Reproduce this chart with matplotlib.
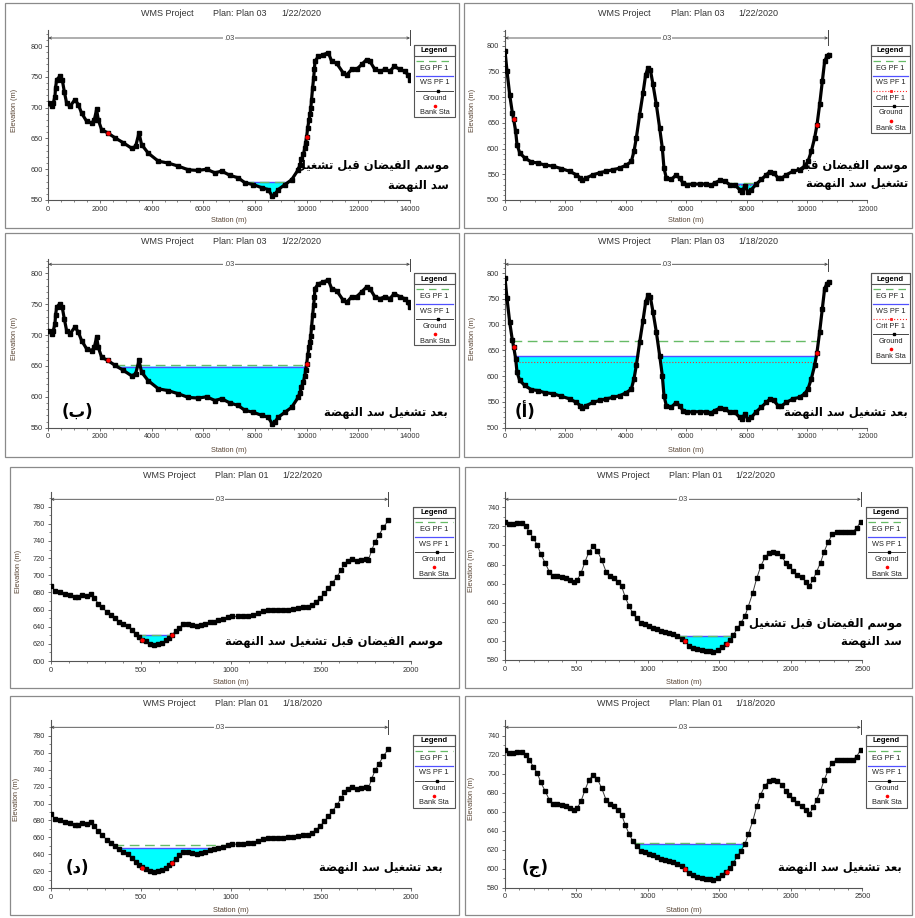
import matplotlib
matplotlib.use("Agg")
import matplotlib.pyplot as plt
import numpy as np
from matplotlib.patches import Rectangle
from matplotlib.ticker import MultipleLocator

plt.rcParams['font.family'] = ['Liberation Sans', 'DejaVu Sans']

W, H = 915, 918

# ---------------- data ----------------
# section B (left column, two upper rows)
sta_b = [0, 130, 190, 258, 280, 323, 450, 540, 620, 710, 840, 1030, 1160, 1290, 1480, 1680, 1780,
         1870, 1935, 2065, 2300, 2580, 2900, 3225, 3380, 3510, 3610, 3870, 4260, 4640, 5030, 5420,
         5800, 6130, 6450, 6710, 7030, 7350, 7610, 7930, 8260, 8510, 8670, 8770, 8900, 9160, 9420,
         9670, 9740, 9800, 9870, 9930, 9960, 10000, 10040, 10090, 10130, 10160, 10190, 10230, 10270,
         10300, 10320, 10450, 10640, 10840, 10970, 11160, 11420, 11550, 11740, 11930, 12130, 12320,
         12450, 12640, 12840, 13030, 13220, 13390, 13610, 13800, 13930, 14000]
z_b = [707, 702, 707, 718, 732, 745, 751, 745, 726, 707, 702, 713, 705, 691, 678, 675, 680,
       697, 680, 664, 659, 651, 643, 634, 637, 659, 640, 626, 613, 610, 605, 599,
       598, 600, 594, 597, 590, 586, 578, 575, 570, 567, 556, 559, 567, 575, 583,
       599, 607, 616, 624, 634, 643, 653, 667, 680, 689, 699, 713, 732, 748,
       762, 775, 783, 786, 789, 775, 772, 756, 753, 762, 762, 770, 778,
       775, 762, 759, 762, 759, 767, 762, 759, 753, 745]
bank_sta_b = [2300, 10000]
bank_z_b = [659, 653]

# section A (right column, two upper rows)
sta_a = [0, 66, 155, 243, 287, 353, 397, 486, 651, 872, 1093, 1314, 1590, 1866, 2142, 2362, 2495,
         2560, 2694, 2915, 3135, 3356, 3577, 3798, 4019, 4184, 4273, 4350, 4460, 4571, 4659, 4736,
         4813, 4902, 5012, 5123, 5211, 5266, 5343, 5509, 5653, 5786, 5896, 6028, 6227, 6447, 6668,
         6834, 6944, 7110, 7276, 7441, 7607, 7773, 7860, 7938, 8048, 8158, 8324, 8490, 8655, 8766,
         8898, 9042, 9152, 9318, 9539, 9760, 9925, 10035, 10146, 10256, 10333, 10422, 10510, 10587,
         10665, 10720]
z_a = [791, 751, 705, 670, 657, 634, 608, 592, 582, 574, 572, 568, 566, 561, 556, 549, 543,
       538, 543, 549, 553, 556, 559, 562, 568, 575, 595, 621, 666, 708, 744, 757,
       754, 725, 686, 640, 601, 562, 543, 540, 548, 543, 533, 530, 531, 531, 531,
       529, 533, 538, 537, 530, 530, 520, 516, 527, 516, 520, 531, 540, 549, 555,
       553, 543, 542, 549, 556, 559, 566, 575, 595, 621, 646, 686, 731, 770,
       780, 783]
bank_sta_a = [287, 10333]
bank_z_a = [657, 646]

# section D (left column, two lower rows)
sta_d = [0, 24, 52, 80, 107, 135, 154, 176, 200, 222, 243, 265, 287, 311, 335, 357, 380, 404, 428,
         450, 472, 493, 509, 530, 552, 576, 598, 620, 639, 657, 672, 694, 715, 737, 761, 783, 811,
         835, 857, 885, 909, 931, 959, 983, 1009, 1039, 1070, 1098, 1126, 1154, 1181, 1209, 1237,
         1265, 1293, 1320, 1348, 1376, 1404, 1431, 1450, 1472, 1496, 1520, 1543, 1565, 1589, 1613,
         1632, 1654, 1676, 1700, 1724, 1750, 1765, 1783, 1802, 1824, 1848, 1876]
z_d = [688, 682, 680, 678, 677, 675, 675, 677, 676, 678, 673, 667, 663, 657, 654, 650, 646, 643, 641,
       636, 631, 628, 625, 623, 620, 619, 620, 621, 624, 627, 630, 635, 639, 643, 643, 642, 641,
       642, 643, 645, 646, 648, 649, 651, 652, 652, 652.5, 653, 654, 656, 658, 659, 659,
       659, 659, 660, 661, 662, 663, 663, 665, 669, 673, 679, 685, 691, 698, 706,
       713, 717, 719, 717, 718, 719, 718, 729, 739, 747, 756, 764]
bank_sta_d = [507, 672]
bank_z_d = [624, 630]

# section C (right column, two lower rows)
sta_c = [0, 30, 58, 86, 117, 145, 170, 198, 226, 250, 280, 310, 338, 366, 396, 427, 455, 483, 506,
         532, 560, 588, 618, 646, 676, 707, 735, 763, 793, 816, 840, 868, 893, 921, 951, 979, 1007,
         1033, 1061, 1089, 1119, 1147, 1178, 1206, 1236, 1259, 1290, 1318, 1346, 1376, 1406, 1434,
         1457, 1488, 1516, 1546, 1574, 1597, 1625, 1649, 1679, 1702, 1733, 1761, 1789, 1819, 1849,
         1877, 1905, 1936, 1964, 1989, 2017, 2045, 2075, 2106, 2129, 2157, 2180, 2208, 2232, 2262,
         2290, 2320, 2348, 2379, 2407, 2432, 2460, 2488]
z_c = [725, 722, 722, 723, 723, 720, 714.5, 707.5, 700.5, 691, 682, 672.5, 668, 668, 667, 665.5, 664,
       662, 664, 671, 683, 693.5, 699, 694.5, 685, 672.5, 668, 665.5, 662, 657, 646.5, 636.5,
       629.5, 623.5, 619, 617.5, 615.5, 614, 612, 610.5, 609.5, 608.5, 607.5, 605, 602.5, 600,
       595, 593, 591, 590, 589, 589, 588, 590.5, 593.5, 597, 601, 606, 613, 618.5, 626, 636,
       650, 665.5, 678, 687.5, 692.5, 693.5, 692.5, 688.5, 682, 678, 673.5, 669, 666.5, 662,
       657.5, 664.5, 672.5, 682, 693, 704, 711.5, 714.5, 714.5, 714, 714, 714.5, 718, 725]
bank_sta_c = [1259, 1550]
bank_z_c = [600, 597]

# water levels: (WS, EG, Crit)
levels = {
    'b_before': (578.5, 579.0, None),
    'a_before': (532.0, 533.0, 530.0),
    'b_after': (649.0, 651.5, None),
    'a_after': (639.0, 669.0, 628.0),
    'd_before': (630.0, 630.5, None),
    'c_before': (605.0, 605.5, None),
    'd_after': (648.0, 651.0, None),
    'c_after': (626.5, 627.0, None),
}
plans = ['Plan 03', 'Plan 03', 'Plan 03', 'Plan 03', 'Plan 01', 'Plan 01', 'Plan 01', 'Plan 01']
dates = ['1/22/2020', '1/22/2020', '1/22/2020', '1/18/2020',
         '1/22/2020', '1/22/2020', '1/18/2020', '1/18/2020']
manning_n = '.03'

txt_before = 'موسم الفيضان قبل تشغيل سد النهضة'
txt_after = 'بعد تشغيل سد النهضة'

# ---------------- arabic shaping (presentation forms, visual order) ----------------
FORMS = {'ا': (0xFE8D, False), 'أ': (0xFE83, False), 'ب': (0xFE8F, True), 'ة': (0xFE93, False),
         'ت': (0xFE95, True), 'ج': (0xFE9D, True), 'د': (0xFEA9, False), 'س': (0xFEB1, True),
         'ش': (0xFEB5, True), 'ض': (0xFEBD, True), 'ع': (0xFEC9, True), 'غ': (0xFECD, True),
         'ف': (0xFED1, True), 'ق': (0xFED5, True), 'ل': (0xFEDD, True), 'م': (0xFEE1, True),
         'ن': (0xFEE5, True), 'ه': (0xFEE9, True), 'و': (0xFEED, False), 'ي': (0xFEF1, True)}


def shape(text):
    out = []
    for i, ch in enumerate(text):
        if ch not in FORMS:
            out.append(ch)
            continue
        base, dual = FORMS[ch]
        prev = text[i - 1] if i > 0 else ''
        nxt = text[i + 1] if i + 1 < len(text) else ''
        jp = prev in FORMS and FORMS[prev][1]
        jn = dual and nxt in FORMS
        if jp and jn:
            code = base + 3
        elif jp:
            code = base + 1
        elif jn:
            code = base + 2
        else:
            code = base
        out.append(chr(code))
    return ''.join(reversed(out))


def wet_spans(x, z, h):
    spans, start = [], None
    for i in range(len(x)):
        below = z[i] < h
        if below and start is None:
            start = x[0] if i == 0 else x[i - 1] + (h - z[i - 1]) * (x[i] - x[i - 1]) / (z[i] - z[i - 1])
        if not below and start is not None:
            end = x[i - 1] + (h - z[i - 1]) * (x[i] - x[i - 1]) / (z[i] - z[i - 1])
            spans.append((start, end))
            start = None
    if start is not None:
        spans.append((start, x[-1]))
    return spans


fig = plt.figure(figsize=(W / 100, H / 100), dpi=100)

EG_C, WS_C, CR_C = '#66bb66', '#5050ff', '#ff2a2a'
ARAB = dict(family='DejaVu Sans', fontweight='bold', color='black')


def ftxt(x, y, s, **kw):
    fig.text(x / W, 1 - y / H, s, **kw)


def draw_legend(box, crit):
    x0, y0, x1, y1 = box
    w, h = x1 - x0, y1 - y0
    lax = fig.add_axes([x0 / W, 1 - y1 / H, w / W, h / H])
    lax.set_xlim(0, w)
    lax.set_ylim(h, 0)
    lax.axis('off')
    lax.add_patch(Rectangle((0, 0), w, h, fill=False, ec='#555555', lw=0.8, clip_on=False))
    lax.add_patch(Rectangle((0, 0), w, 11, fill=False, ec='#555555', lw=0.8, clip_on=False))
    lax.text(w / 2, 5.8, 'Legend', ha='center', va='center', fontsize=5.5, fontweight='bold')
    names = ['EG PF 1', 'WS PF 1'] + (['Crit PF 1'] if crit else []) + ['Ground', 'Bank Sta']
    y = 15.5
    for nm in names:
        if nm == 'EG PF 1':
            lax.plot([2, w - 2], [y, y], color=EG_C, lw=0.9, ls=(0, (6, 4)), clip_on=False)
        elif nm == 'WS PF 1':
            lax.plot([2, w - 2], [y, y], color=WS_C, lw=0.9, clip_on=False)
        elif nm == 'Crit PF 1':
            lax.plot([2, w - 2], [y, y], color=CR_C, lw=0.8, ls=':', clip_on=False)
            lax.plot([w / 2], [y], 's', color=CR_C, ms=1.2)
        elif nm == 'Ground':
            lax.plot([2, w - 2], [y, y], color='#444444', lw=0.7, clip_on=False)
            lax.plot([w / 2 + 3], [y], 's', color='black', ms=2)
        else:
            lax.plot([w / 2], [y], 'o', color='red', ms=2.6, mec='none')
        lax.text(w / 2, y + 7.5, nm, ha='center', va='center', fontsize=5.3, color='#222222')
        y += 15


def draw_panel(box, axbox, xlim, ylim, xstep, ystep, xminor, yminor, sta, z, bsta, bz, lev, dense,
               n_end, n_py, title_x, title_py, plan, date, elev_x, stat_py, leg_box, crit):
    bx0, by0, bx1, by1 = box
    fig.add_artist(Rectangle((bx0 / W, 1 - by1 / H), (bx1 - bx0) / W, (by1 - by0) / H,
                             transform=fig.transFigure, fill=False, ec='#8a8a8a', lw=0.9))
    x0, yt, x1, yb = axbox
    ax = fig.add_axes([x0 / W, 1 - yb / H, (x1 - x0) / W, (yb - yt) / H])
    ax.set_xlim(*xlim)
    ax.set_ylim(*ylim)
    for s in ('top', 'right'):
        ax.spines[s].set_visible(False)
    for s in ('left', 'bottom'):
        ax.spines[s].set_color('#555555')
        ax.spines[s].set_linewidth(0.8)
    ax.set_xticks(np.arange(xlim[0], xlim[1] + 1, xstep))
    ax.set_yticks(np.arange(ylim[0], ylim[1] - 5, ystep))
    ax.xaxis.set_minor_locator(MultipleLocator(xminor))
    ax.yaxis.set_minor_locator(MultipleLocator(yminor))
    ax.tick_params(which='major', labelsize=5.3, length=2.5, width=0.6, colors='#555555',
                   labelcolor='#333333', pad=1.5)
    ax.tick_params(which='minor', length=1.5, width=0.5, colors='#555555')

    sta = np.asarray(sta, float)
    z = np.asarray(z, float)
    ws, eg, cr = lev
    ax.fill_between(sta, z, ws, where=z < ws, interpolate=True, color='#00ffff', lw=0, zorder=1)
    for a, b in wet_spans(sta, z, ws):
        ax.plot([a, b], [ws, ws], color=WS_C, lw=1.0, zorder=2)
    if cr is not None:
        for a, b in wet_spans(sta, z, cr):
            ax.plot([a, b], [cr, cr], color=CR_C, lw=0.8, ls=':', zorder=2)
    for a, b in wet_spans(sta, z, eg):
        ax.plot([a, b], [eg, eg], color=EG_C, lw=1.0, ls=(0, (7, 4)), zorder=3)
    if dense:
        ax.plot(sta, z, color='black', lw=2.3, marker='s', ms=2.4, zorder=4, solid_joinstyle='round')
    else:
        ax.plot(sta, z, color='#3a3a3a', lw=0.7, marker='s', ms=2.3, mfc='black', mec='black', zorder=4)
    ax.plot(bsta, bz, 'o', color='red', ms=3.2, mec='none', zorder=5)

    # manning's n bar
    fr = (yb - n_py) / (yb - yt)
    tr = ax.get_xaxis_transform()
    ax.annotate('', xy=(0, fr), xytext=(n_end, fr), xycoords=tr, textcoords=tr,
                arrowprops=dict(arrowstyle='<->', lw=0.6, color='#444444', shrinkA=0, shrinkB=0,
                                mutation_scale=4))
    for xe in (0, n_end):
        ax.plot([xe, xe], [1.0, fr - 7 / (yb - yt)], transform=tr, color='#444444', lw=0.7, clip_on=False)
    ax.text(n_end / 2, fr, manning_n, transform=tr, ha='center', va='center', fontsize=5.3,
            color='#444444', bbox=dict(fc='white', ec='none', pad=0.6))

    # headings and axis labels
    ftxt(title_x[0], title_py, 'WMS Project', fontsize=6.5, color='#333333', va='center')
    ftxt(title_x[1], title_py, 'Plan: ' + plan, fontsize=6.5, color='#333333', va='center')
    ftxt(title_x[2], title_py, date, fontsize=6.5, color='#333333', va='center')
    ftxt(elev_x, (yt + yb) / 2 - 5, 'Elevation (m)', fontsize=5.3, color='#5a4636', rotation=90,
         ha='center', va='center')
    ftxt((x0 + x1) / 2 + 0, stat_py, 'Station (m)', fontsize=5.3, color='#5a4636', ha='center',
         va='center')
    draw_legend(leg_box, crit)
    return ax


TOP = dict(xstep=2000, ystep=50, xminor=500, yminor=10, dense=True)
LOW_D = dict(xlim=(0, 2000), xstep=500, ystep=20, xminor=100, yminor=10, dense=False)
LOW_C = dict(xlim=(0, 2500), xstep=500, ystep=20, xminor=100, yminor=10, dense=False)

# row 1
draw_panel((5, 3, 459, 228), (48.3, 30, 410, 200), (0, 14000), (550, 826), sta=sta_b, z=z_b,
           bsta=bank_sta_b, bz=bank_z_b, lev=levels['b_before'], n_end=14000, n_py=38,
           title_x=(141, 213, 281), title_py=13, plan=plans[0], date=dates[0], elev_x=15, stat_py=221,
           leg_box=(414, 45, 455, 117), crit=False, **TOP)
draw_panel((464, 3, 912, 228), (505, 30, 867.3, 200), (0, 12000), (500, 831), sta=sta_a, z=z_a,
           bsta=bank_sta_a, bz=bank_z_a, lev=levels['a_before'], n_end=10700, n_py=38,
           title_x=(598, 670.7, 738.3), title_py=13, plan=plans[1], date=dates[1], elev_x=473,
           stat_py=221, leg_box=(871, 45, 910, 133), crit=True, **TOP)
# row 2
draw_panel((5, 233, 459, 457), (48.3, 259.3, 410, 427.7), (0, 14000), (550, 822.7), sta=sta_b, z=z_b,
           bsta=bank_sta_b, bz=bank_z_b, lev=levels['b_after'], n_end=14000, n_py=264.3,
           title_x=(141, 213, 281), title_py=241, plan=plans[2], date=dates[2], elev_x=15, stat_py=450,
           leg_box=(414, 273.3, 455, 345), crit=False, **TOP)
draw_panel((464, 233, 912, 457), (505, 259.3, 867.3, 427.7), (0, 12000), (500, 827), sta=sta_a, z=z_a,
           bsta=bank_sta_a, bz=bank_z_a, lev=levels['a_after'], n_end=10700, n_py=264.3,
           title_x=(598, 670.7, 738.3), title_py=241, plan=plans[3], date=dates[3], elev_x=473,
           stat_py=450, leg_box=(871, 273.3, 910, 363.3), crit=True, **TOP)
# row 3
draw_panel((10, 467, 459, 688), (50.7, 491.7, 410.7, 661), ylim=(600, 797.5), sta=sta_d, z=z_d,
           bsta=bank_sta_d, bz=bank_z_d, lev=levels['d_before'], n_end=1875, n_py=499.3,
           title_x=(142.7, 215, 282.7), title_py=475, plan=plans[4], date=dates[4], elev_x=18,
           stat_py=683, leg_box=(413, 506.7, 455, 578.3), crit=False, **LOW_D)
draw_panel((465, 467, 912, 688), (505, 491.7, 862.3, 660), ylim=(580, 756.3), sta=sta_c, z=z_c,
           bsta=bank_sta_c, bz=bank_z_c, lev=levels['c_before'], n_end=2490, n_py=499.3,
           title_x=(596.7, 669, 735), title_py=475, plan=plans[5], date=dates[5], elev_x=472,
           stat_py=683, leg_box=(866, 506.7, 907, 578), crit=False, **LOW_C)
# row 4
draw_panel((10, 696, 459, 915), (50.7, 720, 410.7, 888.3), ylim=(600, 798.5), sta=sta_d, z=z_d,
           bsta=bank_sta_d, bz=bank_z_d, lev=levels['d_after'], n_end=1875, n_py=727.3,
           title_x=(142.7, 215, 282.7), title_py=703.3, plan=plans[6], date=dates[6], elev_x=17,
           stat_py=910, leg_box=(413, 735, 455, 807.7), crit=False, **LOW_D)
draw_panel((465, 696, 912, 915), (505, 720, 862.3, 887.7), ylim=(580, 756.5), sta=sta_c, z=z_c,
           bsta=bank_sta_c, bz=bank_z_c, lev=levels['c_after'], n_end=2490, n_py=727.3,
           title_x=(596.7, 669, 735), title_py=703.3, plan=plans[7], date=dates[7], elev_x=472,
           stat_py=910, leg_box=(866, 735, 907, 808), crit=False, **LOW_C)

# arabic captions
words_b = txt_before.split(' ')
AFS = 8.3
ftxt(449, 166, shape(' '.join(words_b[:4])), ha='right', va='center', fontsize=AFS, **ARAB)
ftxt(449, 185, shape(' '.join(words_b[4:])), ha='right', va='center', fontsize=AFS, **ARAB)
ftxt(908, 166, shape(' '.join(words_b[:3])), ha='right', va='center', fontsize=AFS, **ARAB)
ftxt(908, 184, shape(' '.join(words_b[3:])), ha='right', va='center', fontsize=AFS, **ARAB)
ftxt(448, 412, shape(txt_after), ha='right', va='center', fontsize=AFS, **ARAB)
ftxt(908, 412, shape(txt_after), ha='right', va='center', fontsize=AFS, **ARAB)
ftxt(443, 642, shape(txt_before), ha='right', va='center', fontsize=AFS, **ARAB)
ftxt(902, 623, shape(' '.join(words_b[:4])), ha='right', va='center', fontsize=AFS, **ARAB)
ftxt(902, 642, shape(' '.join(words_b[4:])), ha='right', va='center', fontsize=AFS, **ARAB)
ftxt(443, 868, shape(txt_after), ha='right', va='center', fontsize=AFS, **ARAB)
ftxt(902, 868, shape(txt_after), ha='right', va='center', fontsize=AFS, **ARAB)

# panel letters
for (lx, ly, letter) in [(77, 412, 'ب'), (525, 412, 'أ'), (77, 868, 'د'), (535, 868, 'ج')]:
    ftxt(lx, ly, '(' + shape(letter) + ')', ha='center', va='center', fontsize=12, **ARAB)

fig.savefig('out.png', dpi=100, facecolor='white')
